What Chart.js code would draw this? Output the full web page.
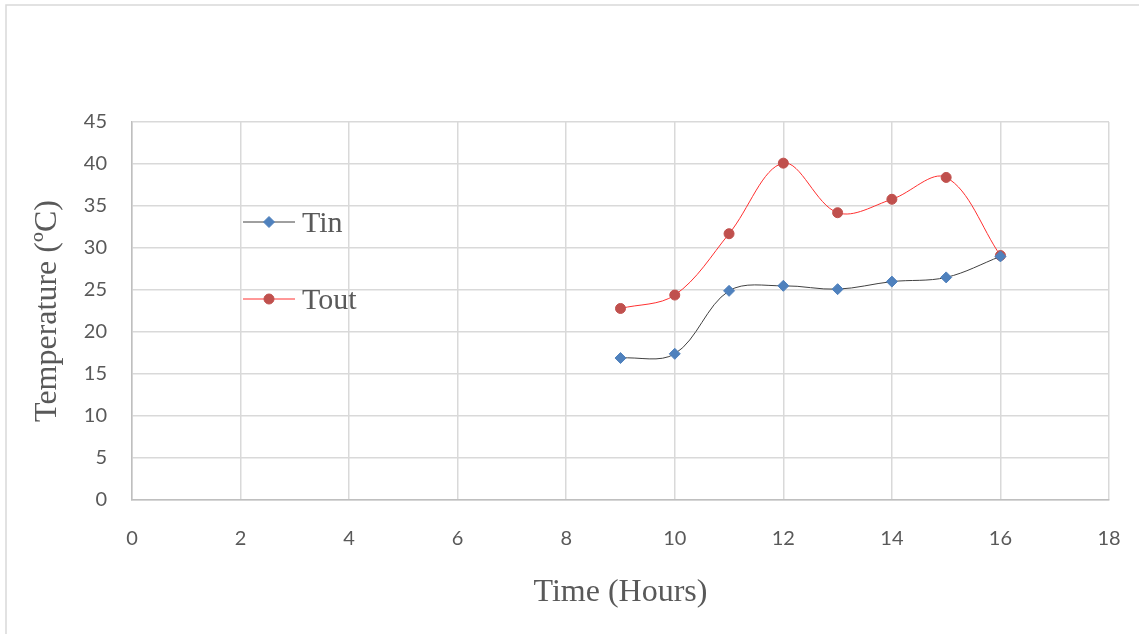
<!DOCTYPE html>
<html>
<head>
<meta charset="utf-8">
<script src="https://cdn.jsdelivr.net/npm/chart.js@4/dist/chart.umd.min.js"></script>
<style>
  html, body { margin: 0; padding: 0; background: #ffffff; }
  #wrap { position: relative; width: 1139px; height: 634px; }
  canvas { display: block; }
</style>
</head>
<body>
<div id="wrap"><canvas id="chart" width="1139" height="634"></canvas></div>
<script>
// Hourly readings
const hours = [9, 10, 11, 12, 13, 14, 15, 16];
const tin = [16.9, 17.4, 24.9, 25.5, 25.1, 26.0, 26.5, 29.0];
const tout = [22.8, 24.4, 31.7, 40.1, 34.2, 35.8, 38.4, 29.1];

const seriesNames = ['Tin', 'Tout'];
const xTitle = 'Time (Hours)';
const yTitle = 'Temperature (\u00BAC)';

const toPoints = (vals) => hours.map((h, i) => ({ x: h, y: vals[i] }));

// Outer frame lines (left and top edges)
const framePlugin = {
  id: 'frame',
  beforeDraw(chart) {
    const ctx = chart.ctx;
    ctx.save();
    ctx.strokeStyle = '#d9d9d9';
    ctx.lineWidth = 1.5;
    ctx.beginPath();
    ctx.moveTo(6, 634);
    ctx.lineTo(6, 5);
    ctx.lineTo(1139, 5);
    ctx.stroke();
    ctx.restore();
  }
};

// Legend drawn inside the plot area, one entry per row
const insideLegend = {
  id: 'insideLegend',
  afterDatasetsDraw(chart) {
    const ctx = chart.ctx;
    const rows = [222, 299];
    ctx.save();
    chart.data.datasets.forEach((ds, i) => {
      const y = rows[i];
      ctx.strokeStyle = ds.borderColor;
      ctx.lineWidth = 1;
      ctx.beginPath();
      ctx.moveTo(243, y);
      ctx.lineTo(295, y);
      ctx.stroke();
      ctx.fillStyle = ds.pointBackgroundColor;
      ctx.strokeStyle = ds.pointBorderColor;
      Chart.helpers.drawPoint(ctx, {
        pointStyle: ds.pointStyle,
        radius: ds.pointRadius,
        borderWidth: 1,
        rotation: 0
      }, 269, y);
      ctx.fillStyle = '#595959';
      ctx.font = '30px "Liberation Serif", "Times New Roman", serif';
      ctx.textBaseline = 'middle';
      ctx.textAlign = 'left';
      ctx.fillText(ds.label, 302, y + 2);
    });
    ctx.restore();
  }
};

new Chart(document.getElementById('chart'), {
  type: 'line',
  data: {
    datasets: [
      {
        label: seriesNames[0],
        data: toPoints(tin),
        borderColor: '#404040',
        borderWidth: 1,
        pointStyle: 'rectRot',
        pointRadius: 5.5,
        pointBackgroundColor: '#4f81bd',
        pointBorderColor: '#4f81bd',
        pointBorderWidth: 1,
        tension: 0.35,
        fill: false
      },
      {
        label: seriesNames[1],
        data: toPoints(tout),
        borderColor: '#ff3030',
        borderWidth: 1,
        pointStyle: 'circle',
        pointRadius: 5,
        pointBackgroundColor: '#c0504d',
        pointBorderColor: '#c0504d',
        pointBorderWidth: 1,
        tension: 0.35,
        fill: false
      }
    ]
  },
  options: {
    responsive: false,
    animation: false,
    events: [],
    layout: { autoPadding: false, padding: { top: 122, right: 30, bottom: 0, left: 0 } },
    plugins: {
      legend: { display: false },
      tooltip: { enabled: false }
    },
    scales: {
      x: {
        type: 'linear',
        min: 0,
        max: 18,
        ticks: {
          stepSize: 2,
          padding: 27,
          color: '#595959',
          font: { family: 'Lato, "Open Sans", sans-serif', size: 20 }
        },
        grid: { color: '#d9d9d9', lineWidth: 1.5, drawTicks: false },
        border: { color: '#bfbfbf', width: 1.5 },
        title: {
          display: true,
          text: xTitle,
          color: '#595959',
          font: { family: '"Liberation Serif", "Times New Roman", serif', size: 32 },
          padding: { top: 0, bottom: 22 }
        },
        afterFit(scale) {
          scale.height = 134;
          scale.paddingLeft = 0;
          scale.paddingRight = 0;
        }
      },
      y: {
        min: 0,
        max: 45,
        ticks: {
          stepSize: 5,
          padding: 25,
          color: '#595959',
          font: { family: 'Lato, "Open Sans", sans-serif', size: 20 }
        },
        grid: { color: '#d9d9d9', lineWidth: 1.5, drawTicks: false },
        border: { color: '#bfbfbf', width: 1.5 },
        title: {
          display: true,
          text: yTitle,
          color: '#595959',
          font: { family: '"Liberation Serif", "Times New Roman", serif', size: 32 },
          padding: { top: 28, bottom: 0 }
        },
        afterFit(scale) {
          scale.width = 132;
          scale.paddingTop = 0;
          scale.paddingBottom = 0;
        }
      }
    }
  },
  plugins: [framePlugin, insideLegend]
});
</script>
</body>
</html>
